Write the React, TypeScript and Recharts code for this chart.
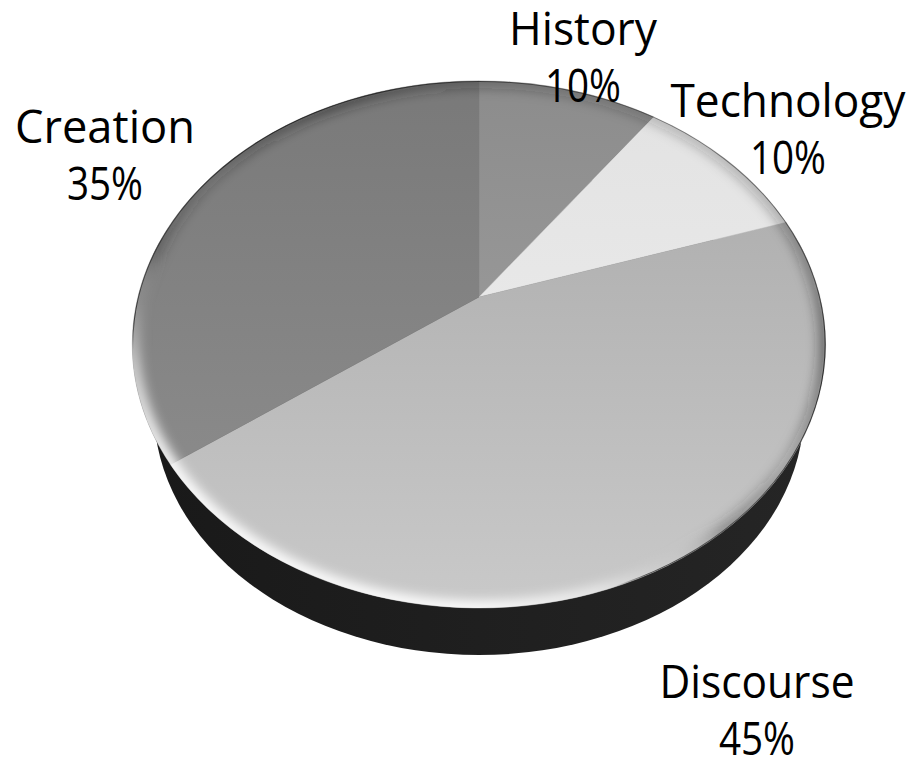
import { PieChart, Pie, Cell } from "recharts";

const categories = ["History", "Technology", "Discourse", "Creation"];
const shares = [10, 10, 45, 35];
const fills = ["url(#fillHistory)", "url(#fillTechnology)", "url(#fillDiscourse)", "url(#fillCreation)"];

const sliceData = categories.map((name, i) => ({ name, value: shares[i] }));
const wholeDisc = [{ name: "disc", value: 100 }];

const WIDTH = 911;
const HEIGHT = 758;
const CX = 479;
const CY = 297;
const A = 341;
const B = 255;
const K = 0.18;

// tilted disc: the circle goes through a small perspective map
const RIM_RX = A / Math.sqrt(1 - K * K);
const RIM_TOP = CY - B / (1 + K);
const RIM_BOTTOM = CY + B / (1 - K);
const RIM_RY = (RIM_BOTTOM - RIM_TOP) / 2;
const RIM_CY = (RIM_BOTTOM + RIM_TOP) / 2;

const rimPoint = (angle: number) => {
  const t = ((90 - angle) * Math.PI) / 180;
  const u = Math.sin(t);
  const v = Math.cos(t);
  const w = 1 + K * v;
  return { x: CX + (A * u) / w, y: CY - (B * v) / w };
};

const rimParam = (p: { x: number; y: number }) => {
  const a = Math.atan2((p.x - CX) / RIM_RX, -(p.y - RIM_CY) / RIM_RY);
  return a < 0 ? a + Math.PI * 2 : a;
};

const SliceShape = (props: any) => {
  const { startAngle, endAngle, fill } = props;
  const p0 = rimPoint(startAngle);
  const p1 = rimPoint(endAngle);
  const param0 = rimParam(p0);
  const param1 = rimParam(p1) || Math.PI * 2;
  const large = param1 - param0 > Math.PI ? 1 : 0;
  return (
    <path
      d={`M${CX},${CY} L${p0.x},${p0.y} A${RIM_RX},${RIM_RY} 0 ${large} 1 ${p1.x},${p1.y} Z`}
      fill={fill}
      stroke={fill}
      strokeWidth={0.5}
    />
  );
};

const SideShape = () => (
  <ellipse cx={CX} cy={410} rx={325} ry={245} fill="url(#sideFill)" />
);

const BevelShape = () => (
  <g clipPath="url(#discClip)">
    <ellipse
      cx={CX}
      cy={RIM_CY}
      rx={RIM_RX}
      ry={RIM_RY}
      fill="none"
      stroke="url(#bevelStroke)"
      strokeWidth={14}
      filter="url(#bevelBlur)"
    />
    <ellipse
      cx={CX}
      cy={RIM_CY}
      rx={RIM_RX}
      ry={RIM_RY}
      fill="none"
      stroke="url(#edgeStroke)"
      strokeWidth={2}
    />
  </g>
);

const labelAt: Record<string, { x: number; y: number; w: number }> = {
  History: { x: 583, y: 45, w: 148 },
  Technology: { x: 788, y: 117, w: 235 },
  Discourse: { x: 757, y: 698, w: 195 },
  Creation: { x: 105, y: 143, w: 180 },
};

const SliceLabel = (props: any) => {
  const { name, value } = props;
  const at = labelAt[name];
  if (!at) return null;
  const font = { textAnchor: "middle", fill: "#000", fontSize: 46, fontFamily: "'Open Sans', sans-serif" } as const;
  return (
    <g>
      <text x={at.x} y={at.y} textLength={at.w} lengthAdjust="spacingAndGlyphs" {...font}>
        {name}
      </text>
      <text x={at.x} y={at.y + 56.5} textLength={76} lengthAdjust="spacingAndGlyphs" {...font}>
        {`${value}%`}
      </text>
    </g>
  );
};

const vertical = (id: string, top: string, bottom: string) => (
  <linearGradient id={id} gradientUnits="userSpaceOnUse" x1={0} y1={81} x2={0} y2={608}>
    <stop offset="0%" stopColor={top} />
    <stop offset="100%" stopColor={bottom} />
  </linearGradient>
);

export default function App() {
  return (
    <div style={{ position: "absolute", left: 0, top: 0, width: WIDTH, height: HEIGHT }}>
      <PieChart width={WIDTH} height={HEIGHT} margin={{ top: 0, right: 0, bottom: 0, left: 0 }}>
        <defs>
          {vertical("fillHistory", "#8c8c8c", "#a6a6a6")}
          {vertical("fillTechnology", "#e2e2e2", "#f0f0f0")}
          {vertical("fillDiscourse", "#a8a8a8", "#c9c9c9")}
          {vertical("fillCreation", "#797979", "#909090")}
          <linearGradient id="sideFill" x1="0" y1="0" x2="1" y2="0">
            <stop offset="0%" stopColor="#191919" />
            <stop offset="100%" stopColor="#252525" />
          </linearGradient>
          <linearGradient id="bevelStroke" gradientUnits="userSpaceOnUse" x1={611} y1={75} x2={347} y2={615}>
            <stop offset="0%" stopColor="#222" stopOpacity={0.2} />
            <stop offset="25%" stopColor="#222" stopOpacity={0.5} />
            <stop offset="45%" stopColor="#222" stopOpacity={0.2} />
            <stop offset="60%" stopColor="#333" stopOpacity={0.4} />
            <stop offset="68%" stopColor="#ddd" stopOpacity={0.1} />
            <stop offset="78%" stopColor="#fff" stopOpacity={0.6} />
            <stop offset="90%" stopColor="#fff" stopOpacity={1} />
          </linearGradient>
          <linearGradient id="edgeStroke" gradientUnits="userSpaceOnUse" x1={611} y1={75} x2={347} y2={615}>
            <stop offset="0%" stopColor="#111" stopOpacity={0.4} />
            <stop offset="30%" stopColor="#111" stopOpacity={0.8} />
            <stop offset="55%" stopColor="#111" stopOpacity={0.5} />
            <stop offset="72%" stopColor="#111" stopOpacity={0.7} />
            <stop offset="76%" stopColor="#111" stopOpacity={0} />
          </linearGradient>
          <filter id="bevelBlur" x="-5%" y="-5%" width="110%" height="110%">
            <feGaussianBlur stdDeviation={6} />
          </filter>
          <clipPath id="discClip">
            <ellipse cx={CX} cy={RIM_CY} rx={RIM_RX} ry={RIM_RY} />
          </clipPath>
        </defs>
        <Pie
          data={wholeDisc}
          dataKey="value"
          cx={CX}
          cy={CY}
          outerRadius={A}
          stroke="none"
          shape={SideShape}
          isAnimationActive={false}
        />
        <Pie
          data={sliceData}
          dataKey="value"
          nameKey="name"
          cx={CX}
          cy={CY}
          outerRadius={A}
          startAngle={90}
          endAngle={-270}
          stroke="none"
          shape={SliceShape}
          labelLine={false}
          label={SliceLabel}
          isAnimationActive={false}
        >
          {sliceData.map((d, i) => (
            <Cell key={d.name} fill={fills[i]} />
          ))}
        </Pie>
        <Pie
          data={wholeDisc}
          dataKey="value"
          cx={CX}
          cy={CY}
          outerRadius={A}
          stroke="none"
          shape={BevelShape}
          isAnimationActive={false}
        />
      </PieChart>
    </div>
  );
}
